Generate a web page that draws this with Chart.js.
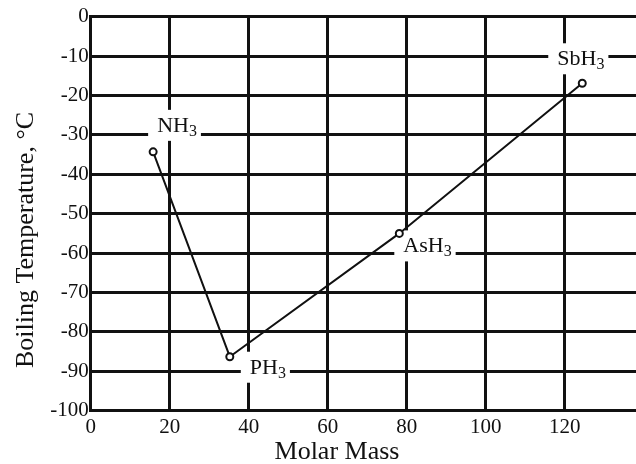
<!DOCTYPE html>
<html>
<head>
<meta charset="utf-8">
<script src="https://cdn.jsdelivr.net/npm/chart.js@4"></script>
<style>
  html, body { margin: 0; padding: 0; background: #fff; }
  #wrap { width: 636px; height: 464px; }
</style>
</head>
<body>
<div id="wrap"><canvas id="c" width="636" height="464"></canvas></div>
<script>
// ---- data ----
const compounds    = ['NH3', 'PH3', 'AsH3', 'SbH3'];
const molarMass    = [15.8, 35.2, 78.1, 124.4];
const boilingPoint = [-34.3, -86.3, -55.0, -16.9];
const xTicks = [0, 20, 40, 60, 80, 100, 120];
const yTicks = [0, -10, -20, -30, -40, -50, -60, -70, -80, -90, -100];
const xTitle = 'Molar Mass';
const yTitle = 'Boiling Temperature, °C';

// ---- styles / label placement (pixel offsets from each point) ----
const FONT = '"Liberation Serif", "Times New Roman", serif';
const labelOffsets = [[4, -20], [20, 17], [4, 19], [-25, -18]];

const labelPlugin = {
  id: 'compoundLabels',
  beforeDatasetsDraw(chart) {
    const ctx = chart.ctx, xs = chart.scales.x, ys = chart.scales.y;
    ctx.save();
    compounds.forEach((name, i) => {
      const px = xs.getPixelForValue(molarMass[i]);
      const py = ys.getPixelForValue(boilingPoint[i]);
      const left = px + labelOffsets[i][0];
      const base = py + labelOffsets[i][1];
      const main = name.slice(0, -1), sub = name.slice(-1);
      ctx.font = '22px ' + FONT;
      const w1 = ctx.measureText(main).width;
      ctx.font = '16px ' + FONT;
      const w2 = ctx.measureText(sub).width;
      ctx.fillStyle = '#fff';
      ctx.fillRect(left - 9, base - 22, w1 + w2 + 13, 31);
      ctx.fillStyle = '#111';
      ctx.textAlign = 'left';
      ctx.textBaseline = 'alphabetic';
      ctx.font = '22px ' + FONT;
      ctx.fillText(main, left, base);
      ctx.font = '16px ' + FONT;
      ctx.fillText(sub, left + w1, base + 4);
    });
    ctx.restore();
  },
  afterDraw(chart) {
    const ctx = chart.ctx;
    ctx.save();
    ctx.fillStyle = '#111';
    ctx.font = '26px ' + FONT;
    ctx.textAlign = 'center';
    ctx.textBaseline = 'alphabetic';
    ctx.fillText(xTitle, 337, 459);
    ctx.translate(33, 240);
    ctx.rotate(-Math.PI / 2);
    ctx.fillText(yTitle, 0, 0);
    ctx.restore();
  }
};

new Chart(document.getElementById('c'), {
  type: 'scatter',
  data: {
    datasets: [{
      data: molarMass.map((m, i) => ({ x: m, y: boilingPoint[i] })),
      showLine: true,
      borderColor: '#111',
      borderWidth: 2,
      pointRadius: 3.5,
      pointBorderWidth: 2,
      pointBackgroundColor: '#fff',
      pointBorderColor: '#111',
      tension: 0
    }]
  },
  options: {
    responsive: false,
    animation: false,
    devicePixelRatio: 1,
    layout: { autoPadding: false, padding: { top: 16.7, right: 0, left: 0, bottom: 0 } },
    plugins: { legend: { display: false }, tooltip: { enabled: false } },
    scales: {
      x: {
        type: 'linear',
        min: 0, max: 138,
        afterBuildTicks(s) { s.ticks = xTicks.map(v => ({ value: v })); },
        afterFit(s) { s.height = 53.3; s.paddingLeft = 0; s.paddingRight = 0; },
        grid: { color: '#111', lineWidth: 3, drawTicks: false },
        border: { color: '#111', width: 3 },
        ticks: { color: '#111', padding: 4, font: { family: FONT, size: 21 }, maxRotation: 0 }
      },
      y: {
        type: 'linear',
        min: -100, max: 0,
        afterBuildTicks(s) { s.ticks = yTicks.map(v => ({ value: v })); },
        afterFit(s) { s.width = 90.7; s.paddingTop = 0; s.paddingBottom = 0; },
        grid: { color: '#111', lineWidth: 3, drawTicks: false },
        border: { color: '#111', width: 3 },
        ticks: { color: '#111', padding: 2, font: { family: FONT, size: 21 } }
      }
    }
  },
  plugins: [labelPlugin]
});
</script>
</body>
</html>
